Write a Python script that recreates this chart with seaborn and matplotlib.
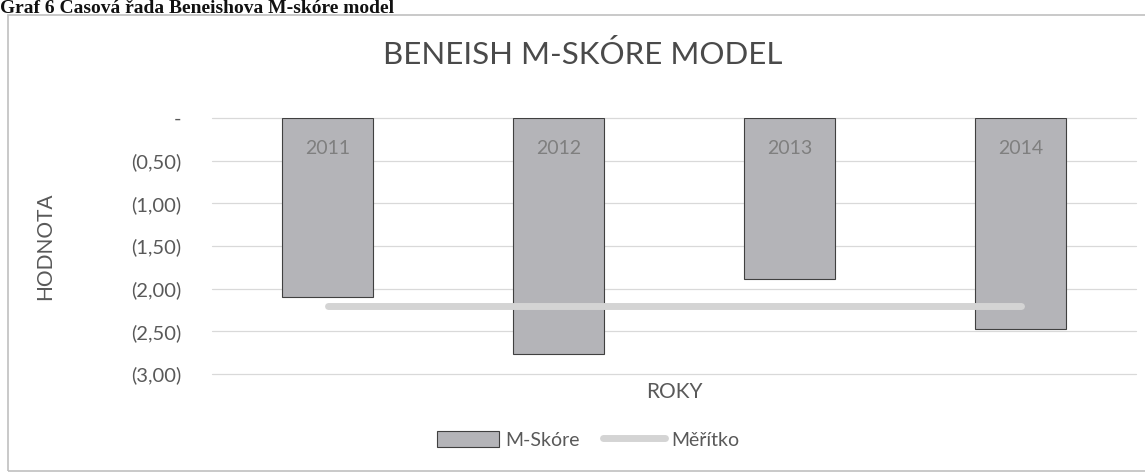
import numpy as np
import matplotlib
matplotlib.use('Agg')
import matplotlib.pyplot as plt
import matplotlib.patches as mpatches
from matplotlib.lines import Line2D
from matplotlib.ticker import FuncFormatter
import seaborn as sns

years = ['2011', '2012', '2013', '2014']
m_skore = [-2.10, -2.77, -1.89, -2.47]
meritko = [-2.20, -2.20, -2.20, -2.20]
y_ticks = [0.0, -0.5, -1.0, -1.5, -2.0, -2.5, -3.0]

caption = 'Graf 6 Časová řada Beneishova M-skóre model'
title = 'BENEISH M-SKÓRE MODEL'

bar_color = '#b4b4b8'
line_color = '#d4d4d4'
text_color = '#595959'

sns.set_style('white')
plt.rcParams['font.family'] = ['Lato', 'DejaVu Sans']

fig = plt.figure(figsize=(11.45, 4.72), dpi=100)
ax = fig.add_axes([212 / 1145, 1 - 374 / 472, 924 / 1145, 256 / 472])

sns.barplot(x=years, y=m_skore, color=bar_color, width=0.39,
            edgecolor='#404040', linewidth=0.8, saturation=1, ax=ax, zorder=2)
sns.lineplot(x=np.arange(len(years)), y=meritko, color=line_color, linewidth=5,
             solid_capstyle='round', ax=ax, zorder=3)

ax.set_xlim(-0.5, len(years) - 0.5)
ax.set_ylim(-3.0, 0.0)
ax.set_yticks(y_ticks)


def fmt(v, pos):
    if abs(v) < 1e-9:
        return '-'
    return '({:.2f})'.format(abs(v)).replace('.', ',')


ax.yaxis.set_major_formatter(FuncFormatter(fmt))
ax.grid(axis='y', color='#d9d9d9', linewidth=0.9, zorder=0)
ax.set_axisbelow(True)
for gl in ax.get_ygridlines():
    gl.set_clip_on(False)

for s in ['top', 'right', 'left', 'bottom']:
    ax.spines[s].set_visible(False)

# category labels sit at the zero line, i.e. inside the top of the bars
ax.set_xticks([])
for i, yr in enumerate(years):
    ax.annotate(yr, xy=(i, 0), xytext=(0, -22), textcoords='offset points',
                ha='center', va='center', fontsize=14, color='#7f7f7f', zorder=5)

ax.tick_params(axis='y', length=0, pad=22, labelsize=14.5, labelcolor=text_color)

ax.set_xlabel('ROKY', fontsize=15, color=text_color)
ax.xaxis.set_label_coords(0.5, -0.03)
ax.set_ylabel('HODNOTA', fontsize=15, color=text_color)
ax.yaxis.set_label_coords(-0.17, 0.5)

fig.text(583 / 1145, 1 - 55 / 472, title, ha='center', va='center',
         fontsize=22.5, color='#4a4a4a')

fig.text(0.0, 1 - 13 / 472, caption, ha='left', va='baseline', fontsize=14,
         fontweight='bold', color='#111111', family=['Liberation Serif', 'DejaVu Serif'])

# chart frame
fig.patches.append(mpatches.Rectangle((8 / 1145, 1 / 472), 1.2, 1 - 16 / 472,
                                      transform=fig.transFigure, fill=False,
                                      edgecolor='#c0c0c0', linewidth=1.2))

handles = [mpatches.Patch(facecolor=bar_color, edgecolor='#404040', linewidth=0.8, label='M-Skóre'),
           Line2D([0], [0], color=line_color, linewidth=5, label='Měřítko')]
fig.legend(handles=handles, loc='center', bbox_to_anchor=(588 / 1145, 1 - 440 / 472),
           ncol=2, frameon=False, fontsize=14, labelcolor=text_color,
           handlelength=3.2, handleheight=0.9, handletextpad=0.3, columnspacing=1.2)

fig.savefig('out.png', dpi=100)
